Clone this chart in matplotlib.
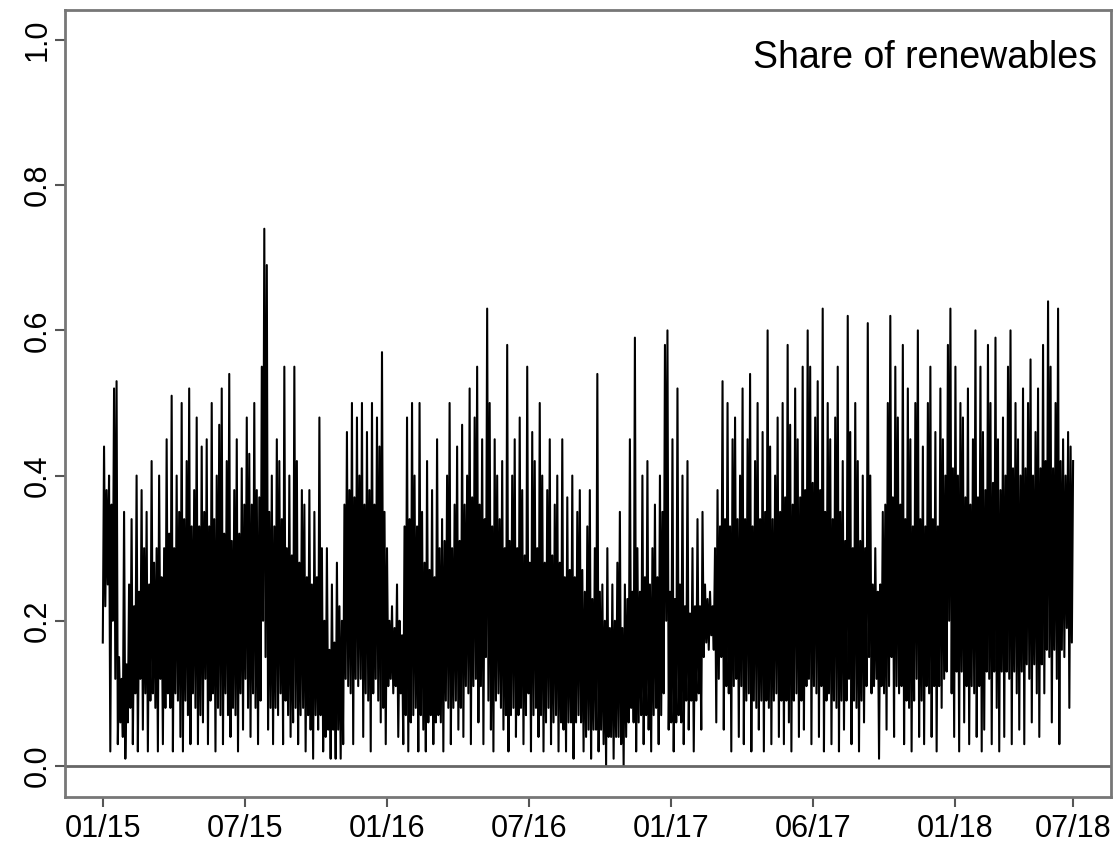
import numpy as np
import matplotlib
matplotlib.use("Agg")
import matplotlib.pyplot as plt

plt.rcParams['font.family'] = ['Liberation Sans', 'DejaVu Sans']

# share of renewables, Jan 2015 - Jun 2018: successive troughs and peaks of the series
share = [
    0.17, 0.44, 0.22, 0.38, 0.25, 0.40, 0.02, 0.36, 0.20, 0.52, 0.12, 0.53, 0.03, 0.15, 0.06, 0.12,
    0.04, 0.35, 0.01, 0.14, 0.06, 0.25, 0.08, 0.34, 0.03, 0.22, 0.10, 0.40, 0.02, 0.24, 0.12, 0.38,
    0.05, 0.30, 0.10, 0.35, 0.02, 0.25, 0.09, 0.42, 0.10, 0.28, 0.08, 0.30, 0.02, 0.40, 0.12, 0.26,
    0.03, 0.30, 0.08, 0.45, 0.10, 0.32, 0.08, 0.51, 0.02, 0.30, 0.10, 0.40, 0.09, 0.35, 0.04, 0.50,
    0.02, 0.34, 0.09, 0.42, 0.07, 0.52, 0.03, 0.33, 0.10, 0.38, 0.08, 0.48, 0.03, 0.33, 0.07, 0.44,
    0.06, 0.35, 0.12, 0.45, 0.03, 0.33, 0.09, 0.50, 0.10, 0.34, 0.02, 0.40, 0.08, 0.47, 0.07, 0.52,
    0.03, 0.32, 0.10, 0.42, 0.07, 0.54, 0.04, 0.31, 0.08, 0.38, 0.07, 0.45, 0.02, 0.32, 0.10, 0.41,
    0.05, 0.36, 0.12, 0.48, 0.08, 0.43, 0.04, 0.36, 0.10, 0.50, 0.08, 0.38, 0.03, 0.37, 0.09, 0.55,
    0.20, 0.74, 0.15, 0.69, 0.05, 0.35, 0.08, 0.40, 0.03, 0.33, 0.08, 0.45, 0.07, 0.42, 0.10, 0.34,
    0.03, 0.55, 0.09, 0.30, 0.07, 0.40, 0.04, 0.29, 0.06, 0.55, 0.08, 0.42, 0.03, 0.28, 0.07, 0.38,
    0.08, 0.36, 0.02, 0.26, 0.07, 0.38, 0.05, 0.25, 0.01, 0.35, 0.07, 0.26, 0.05, 0.48, 0.07, 0.30,
    0.02, 0.20, 0.04, 0.30, 0.05, 0.16, 0.01, 0.25, 0.05, 0.17, 0.01, 0.28, 0.05, 0.22, 0.01, 0.20,
    0.03, 0.36, 0.12, 0.46, 0.11, 0.38, 0.10, 0.50, 0.03, 0.37, 0.12, 0.48, 0.11, 0.40, 0.12, 0.50,
    0.04, 0.36, 0.10, 0.46, 0.09, 0.38, 0.02, 0.50, 0.10, 0.36, 0.12, 0.48, 0.09, 0.44, 0.06, 0.57,
    0.08, 0.35, 0.03, 0.30, 0.11, 0.20, 0.12, 0.22, 0.10, 0.19, 0.11, 0.25, 0.04, 0.20, 0.10, 0.18,
    0.03, 0.33, 0.07, 0.48, 0.02, 0.34, 0.06, 0.50, 0.07, 0.40, 0.08, 0.33, 0.02, 0.50, 0.07, 0.35,
    0.05, 0.28, 0.02, 0.42, 0.06, 0.27, 0.07, 0.38, 0.03, 0.26, 0.06, 0.45, 0.07, 0.30, 0.06, 0.34,
    0.02, 0.31, 0.09, 0.40, 0.08, 0.50, 0.03, 0.30, 0.08, 0.36, 0.09, 0.44, 0.05, 0.31, 0.08, 0.47,
    0.04, 0.36, 0.11, 0.40, 0.10, 0.52, 0.03, 0.37, 0.11, 0.48, 0.12, 0.55, 0.06, 0.36, 0.11, 0.45,
    0.03, 0.34, 0.15, 0.63, 0.09, 0.50, 0.05, 0.33, 0.02, 0.45, 0.09, 0.40, 0.10, 0.34, 0.08, 0.42,
    0.05, 0.30, 0.07, 0.58, 0.02, 0.31, 0.07, 0.40, 0.08, 0.45, 0.04, 0.30, 0.07, 0.48, 0.08, 0.38,
    0.03, 0.29, 0.07, 0.55, 0.10, 0.28, 0.02, 0.46, 0.07, 0.42, 0.08, 0.30, 0.04, 0.50, 0.07, 0.40,
    0.02, 0.28, 0.06, 0.38, 0.08, 0.45, 0.03, 0.29, 0.06, 0.36, 0.07, 0.40, 0.02, 0.28, 0.06, 0.45,
    0.05, 0.26, 0.02, 0.37, 0.06, 0.27, 0.06, 0.40, 0.01, 0.26, 0.06, 0.35, 0.07, 0.38, 0.06, 0.27,
    0.02, 0.24, 0.04, 0.33, 0.05, 0.38, 0.01, 0.23, 0.05, 0.30, 0.05, 0.54, 0.02, 0.24, 0.05, 0.25,
    0.03, 0.20, 0.00, 0.30, 0.04, 0.19, 0.04, 0.25, 0.01, 0.20, 0.04, 0.28, 0.04, 0.35, 0.03, 0.19,
    0.00, 0.25, 0.04, 0.23, 0.06, 0.45, 0.08, 0.24, 0.06, 0.59, 0.02, 0.30, 0.06, 0.24, 0.07, 0.40,
    0.03, 0.26, 0.07, 0.42, 0.05, 0.25, 0.02, 0.30, 0.07, 0.36, 0.08, 0.26, 0.03, 0.40, 0.07, 0.35,
    0.10, 0.58, 0.20, 0.60, 0.05, 0.24, 0.06, 0.45, 0.02, 0.23, 0.06, 0.52, 0.07, 0.25, 0.06, 0.40,
    0.03, 0.22, 0.09, 0.42, 0.05, 0.21, 0.09, 0.30, 0.02, 0.22, 0.09, 0.34, 0.10, 0.22, 0.05, 0.35,
    0.15, 0.25, 0.17, 0.23, 0.16, 0.24, 0.18, 0.22, 0.16, 0.30, 0.06, 0.38, 0.12, 0.33, 0.15, 0.53,
    0.05, 0.34, 0.11, 0.50, 0.10, 0.33, 0.02, 0.45, 0.11, 0.48, 0.12, 0.34, 0.04, 0.40, 0.11, 0.52,
    0.03, 0.34, 0.09, 0.45, 0.10, 0.54, 0.02, 0.33, 0.09, 0.42, 0.08, 0.50, 0.05, 0.34, 0.09, 0.46,
    0.02, 0.35, 0.09, 0.60, 0.08, 0.44, 0.03, 0.34, 0.09, 0.40, 0.10, 0.48, 0.04, 0.35, 0.09, 0.50,
    0.03, 0.37, 0.09, 0.58, 0.06, 0.47, 0.02, 0.36, 0.09, 0.52, 0.10, 0.45, 0.04, 0.37, 0.09, 0.55,
    0.05, 0.38, 0.11, 0.60, 0.12, 0.55, 0.03, 0.39, 0.11, 0.48, 0.10, 0.53, 0.04, 0.38, 0.11, 0.63,
    0.02, 0.35, 0.09, 0.50, 0.10, 0.45, 0.03, 0.34, 0.09, 0.48, 0.08, 0.55, 0.02, 0.35, 0.09, 0.42,
    0.05, 0.31, 0.09, 0.62, 0.12, 0.46, 0.03, 0.30, 0.09, 0.50, 0.08, 0.42, 0.02, 0.31, 0.09, 0.40,
    0.06, 0.30, 0.11, 0.61, 0.15, 0.40, 0.10, 0.25, 0.11, 0.30, 0.12, 0.24, 0.01, 0.25, 0.11, 0.35,
    0.10, 0.36, 0.05, 0.50, 0.11, 0.62, 0.15, 0.37, 0.04, 0.55, 0.11, 0.48, 0.10, 0.36, 0.11, 0.58,
    0.03, 0.34, 0.09, 0.52, 0.08, 0.45, 0.02, 0.33, 0.09, 0.50, 0.12, 0.60, 0.04, 0.34, 0.09, 0.44,
    0.03, 0.33, 0.11, 0.50, 0.10, 0.55, 0.04, 0.34, 0.11, 0.46, 0.02, 0.33, 0.11, 0.52, 0.08, 0.45,
    0.12, 0.40, 0.13, 0.58, 0.20, 0.63, 0.10, 0.41, 0.04, 0.55, 0.13, 0.40, 0.02, 0.50, 0.13, 0.48,
    0.06, 0.37, 0.11, 0.52, 0.03, 0.36, 0.11, 0.45, 0.10, 0.60, 0.04, 0.37, 0.11, 0.55, 0.02, 0.46,
    0.05, 0.38, 0.13, 0.58, 0.12, 0.50, 0.03, 0.39, 0.13, 0.59, 0.08, 0.45, 0.02, 0.38, 0.13, 0.48,
    0.04, 0.40, 0.13, 0.55, 0.12, 0.60, 0.03, 0.41, 0.13, 0.50, 0.10, 0.45, 0.05, 0.40, 0.13, 0.52,
    0.03, 0.41, 0.14, 0.50, 0.12, 0.56, 0.06, 0.40, 0.14, 0.46, 0.10, 0.52, 0.04, 0.41, 0.14, 0.58,
    0.10, 0.42, 0.16, 0.64, 0.15, 0.55, 0.06, 0.41, 0.16, 0.50, 0.12, 0.63, 0.03, 0.42, 0.16, 0.45,
    0.15, 0.40, 0.19, 0.46, 0.08, 0.44, 0.17, 0.42,
]

# months since 01/15 for the labelled ticks
tick_pos = [0, 6, 12, 18, 24, 30, 36, 41]
tick_labels = ["01/15", "07/15", "01/16", "07/16", "01/17", "06/17", "01/18", "07/18"]
y_ticks = [0.0, 0.2, 0.4, 0.6, 0.8, 1.0]

months = np.linspace(0, 41, len(share))

fig = plt.figure(figsize=(11.17, 8.52), dpi=100)
ax = fig.add_axes([0.058, 0.0646, 0.9366, 0.9234])

ax.plot(months, share, color="black", lw=1.5)
ax.axhline(0, color="#666666", lw=2)

ax.set_xlim(-1.606, 42.6)
ax.set_ylim(-0.0427, 1.041)
ax.set_xticks(tick_pos)
ax.set_xticklabels(tick_labels)
ax.set_yticks(y_ticks)
ax.set_yticklabels([f"{v:.1f}" for v in y_ticks], rotation=90, va="center")

for s in ax.spines.values():
    s.set_color("#777777")
    s.set_linewidth(2)
ax.tick_params(axis="both", colors="#555555", labelcolor="black",
               labelsize=22, length=7.5, width=1.5)
ax.tick_params(axis="x", pad=5)
ax.tick_params(axis="y", pad=1)

ax.text(42.0, 0.975, "Share of renewables", ha="right", va="center",
        fontsize=27)

fig.savefig("out.png", dpi=100)
